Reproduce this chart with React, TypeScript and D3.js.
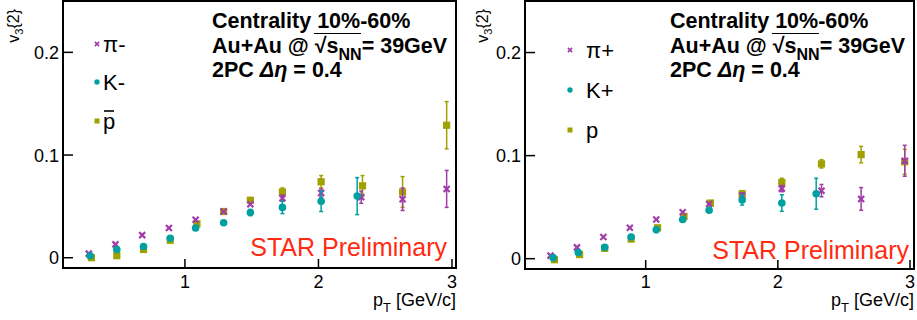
import React from 'react';
import * as d3 from 'd3';

// left panel: negative particles
const piMinusPt = [0.28, 0.48, 0.68, 0.88, 1.08, 1.29, 1.49, 1.73, 2.02, 2.32, 2.63, 2.96];
const piMinusV = [0.004, 0.013, 0.022, 0.029, 0.037, 0.045, 0.052, 0.058, 0.063, 0.059, 0.057, 0.067];
const piMinusErr = [0.001, 0.001, 0.001, 0.001, 0.001, 0.002, 0.002, 0.003, 0.004, 0.006, 0.011, 0.018];

const kMinusPt = [0.29, 0.49, 0.69, 0.89, 1.08, 1.29, 1.49, 1.73, 2.02, 2.29];
const kMinusV = [0.002, 0.008, 0.011, 0.019, 0.029, 0.034, 0.044, 0.049, 0.055, 0.060];
const kMinusErr = [0.001, 0.001, 0.001, 0.001, 0.001, 0.002, 0.003, 0.006, 0.010, 0.018];

const pbarPt = [0.30, 0.49, 0.69, 0.89, 1.09, 1.29, 1.49, 1.73, 2.02, 2.33, 2.63, 2.96];
const pbarV = [0.000, 0.002, 0.008, 0.017, 0.033, 0.045, 0.056, 0.064, 0.074, 0.070, 0.064, 0.129];
const pbarErr = [0.001, 0.001, 0.001, 0.001, 0.001, 0.002, 0.002, 0.004, 0.006, 0.010, 0.015, 0.023];

// right panel: positive particles
const piPlusPt = [0.28, 0.48, 0.68, 0.88, 1.08, 1.28, 1.48, 1.73, 2.03, 2.33, 2.63, 2.96];
const piPlusV = [0.003, 0.011, 0.021, 0.030, 0.038, 0.045, 0.053, 0.061, 0.068, 0.066, 0.058, 0.095];
const piPlusErr = [0.001, 0.001, 0.001, 0.001, 0.001, 0.001, 0.002, 0.003, 0.003, 0.006, 0.011, 0.015];

const kPlusPt = [0.30, 0.49, 0.69, 0.89, 1.08, 1.28, 1.48, 1.73, 2.03, 2.29];
const kPlusV = [0.001, 0.006, 0.011, 0.021, 0.028, 0.038, 0.047, 0.057, 0.054, 0.063];
const kPlusErr = [0.001, 0.001, 0.001, 0.001, 0.001, 0.002, 0.002, 0.005, 0.008, 0.015];

const pPt = [0.31, 0.50, 0.69, 0.89, 1.09, 1.29, 1.49, 1.73, 2.03, 2.33, 2.63, 2.96];
const pV = [-0.001, 0.004, 0.010, 0.019, 0.030, 0.041, 0.054, 0.063, 0.074, 0.092, 0.101, 0.094];
const pErr = [0.001, 0.001, 0.001, 0.001, 0.001, 0.002, 0.002, 0.003, 0.004, 0.004, 0.008, 0.012];

const xTicks = [1, 2, 3];
const yTicks = [0, 0.1, 0.2];
const yTickLabels = ['0', '0.1', '0.2'];

const PURPLE = '#a23ca8';
const TEAL = '#00a0a0';
const OLIVE = '#a0a000';
const FONT = '"Liberation Sans", Arial, Helvetica, sans-serif';

type Series = { pt: number[]; v: number[]; err: number[]; color: string; marker: string; label: string; bar?: boolean };

const Marker = ({ x, y, type, color, s = 1 }: any) => {
  if (type === 'x') {
    const d = 3 * s;
    return (
      <g stroke={color} strokeWidth={2.2 * s}>
        <line x1={x - d} y1={y - d} x2={x + d} y2={y + d} />
        <line x1={x - d} y1={y + d} x2={x + d} y2={y - d} />
      </g>
    );
  }
  if (type === 'circle') return <circle cx={x} cy={y} r={3.8 * s} fill={color} />;
  return <rect x={x - 3.6 * s} y={y - 3.6 * s} width={7.2 * s} height={7.2 * s} fill={color} />;
};

const Panel = ({ cfg }: any) => {
  const { x0, x1, y0, y1 } = cfg;
  const x = d3.scaleLinear().domain([0.087, 3.03]).range([x0, x1]);
  const y = d3.scaleLinear().domain([-0.01, 0.25]).range([y1, y0]);
  const series: Series[] = cfg.series;
  // squares underneath, then pions, then kaons on top
  const drawOrder = [2, 0, 1];

  return (
    <g fontFamily={FONT}>
      {drawOrder.map((si) => {
        const s = series[si];
        return (
          <g key={si}>
            {s.pt.map((p, i) => {
              const cx = x(p);
              const lo = y(s.v[i] - s.err[i]);
              const hi = y(s.v[i] + s.err[i]);
              return (
                <g key={i}>
                  {hi < y(s.v[i]) - 3 && (
                    <g stroke={s.color} strokeWidth={1.5}>
                      <line x1={cx} x2={cx} y1={lo} y2={hi} />
                      <line x1={cx - 2} x2={cx + 2} y1={lo} y2={lo} />
                      <line x1={cx - 2} x2={cx + 2} y1={hi} y2={hi} />
                    </g>
                  )}
                  <Marker x={cx} y={y(s.v[i])} type={s.marker} color={s.color} />
                </g>
              );
            })}
          </g>
        );
      })}

      {/* frame */}
      <rect x={x0} y={y0} width={x1 - x0} height={y1 - y0} fill="none" stroke="#000" strokeWidth={2} />

      {/* ticks */}
      {xTicks.map((t) => (
        <g key={t}>
          <line x1={x(t)} x2={x(t)} y1={y1} y2={y1 - 9} stroke="#000" strokeWidth={1.5} />
          <text x={x(t)} y={288} textAnchor="middle" fontSize={18}>{t}</text>
        </g>
      ))}
      {yTicks.map((t, i) => (
        <g key={t}>
          <line x1={x0} x2={x0 + 10} y1={y(t)} y2={y(t)} stroke="#000" strokeWidth={1.5} />
          <text x={x0 - 4} y={y(t) + 6.5} textAnchor="end" fontSize={18}>{yTickLabels[i]}</text>
        </g>
      ))}

      {/* axis titles */}
      <text x={x1} y={306} textAnchor="end" fontSize={18}>
        p<tspan dy={6} fontSize={13}>T</tspan><tspan dy={-6}> [GeV/c]</tspan>
      </text>
      <text transform={`translate(${cfg.yTitleX},9) rotate(-90)`} textAnchor="end" fontSize={16}>
        v<tspan dy={4} fontSize={11}>3</tspan><tspan dy={-4}>{'{2}'}</tspan>
      </text>

      {/* legend */}
      {series.map((s, i) => (
        <g key={s.label}>
          <Marker x={cfg.legX} y={cfg.legY[i]} type={s.marker} color={s.color} s={0.7} />
          <text x={cfg.legTextX} y={cfg.legY[i] + 8} fontSize={22}>{s.label}</text>
          {s.bar && (
            <line x1={cfg.legTextX + 1} x2={cfg.legTextX + 11} y1={cfg.legY[i] - 10} y2={cfg.legY[i] - 10} stroke="#000" strokeWidth={1.6} />
          )}
        </g>
      ))}

      {/* header */}
      <g fontWeight="bold" fontSize={21.5}>
        <text x={cfg.hx} y={28}>Centrality 10%-60%</text>
        <text x={cfg.hx} y={53}>
          Au+Au @ √<tspan>s</tspan><tspan dy={7} fontSize={16}>NN</tspan><tspan dy={-7}>= 39GeV</tspan>
        </text>
        <text x={cfg.hx} y={77}>
          2PC <tspan fontStyle="italic">Δη</tspan> = 0.4
        </text>
      </g>
      <line x1={cfg.hx + 102} x2={cfg.hx + 149} y1={33.5} y2={33.5} stroke="#000" strokeWidth={1.2} />

      <text x={cfg.starX} y={cfg.starY} textAnchor="end" fontSize={25} fill="#ff2a10">STAR Preliminary</text>
    </g>
  );
};

const left = {
  x0: 63, x1: 456, y0: 1, y1: 268,
  yTitleX: 19,
  legX: 97, legY: [44, 82, 121], legTextX: 103,
  hx: 212, starX: 447, starY: 256,
  series: [
    { pt: piMinusPt, v: piMinusV, err: piMinusErr, color: PURPLE, marker: 'x', label: 'π-' },
    { pt: kMinusPt, v: kMinusV, err: kMinusErr, color: TEAL, marker: 'circle', label: 'K-' },
    { pt: pbarPt, v: pbarV, err: pbarErr, color: OLIVE, marker: 'square', label: 'p', bar: true },
  ],
};

const right = {
  x0: 525, x1: 914, y0: 1, y1: 269,
  yTitleX: 488,
  legX: 570, legY: [50, 90, 130], legTextX: 586,
  hx: 670, starX: 909, starY: 259,
  series: [
    { pt: piPlusPt, v: piPlusV, err: piPlusErr, color: PURPLE, marker: 'x', label: 'π+' },
    { pt: kPlusPt, v: kPlusV, err: kPlusErr, color: TEAL, marker: 'circle', label: 'K+' },
    { pt: pPt, v: pV, err: pErr, color: OLIVE, marker: 'square', label: 'p' },
  ],
};

export default function App() {
  return (
    <svg width={917} height={320} style={{ position: 'absolute', left: 0, top: 0, background: '#fff' }}>
      <Panel cfg={left} />
      <Panel cfg={right} />
    </svg>
  );
}
